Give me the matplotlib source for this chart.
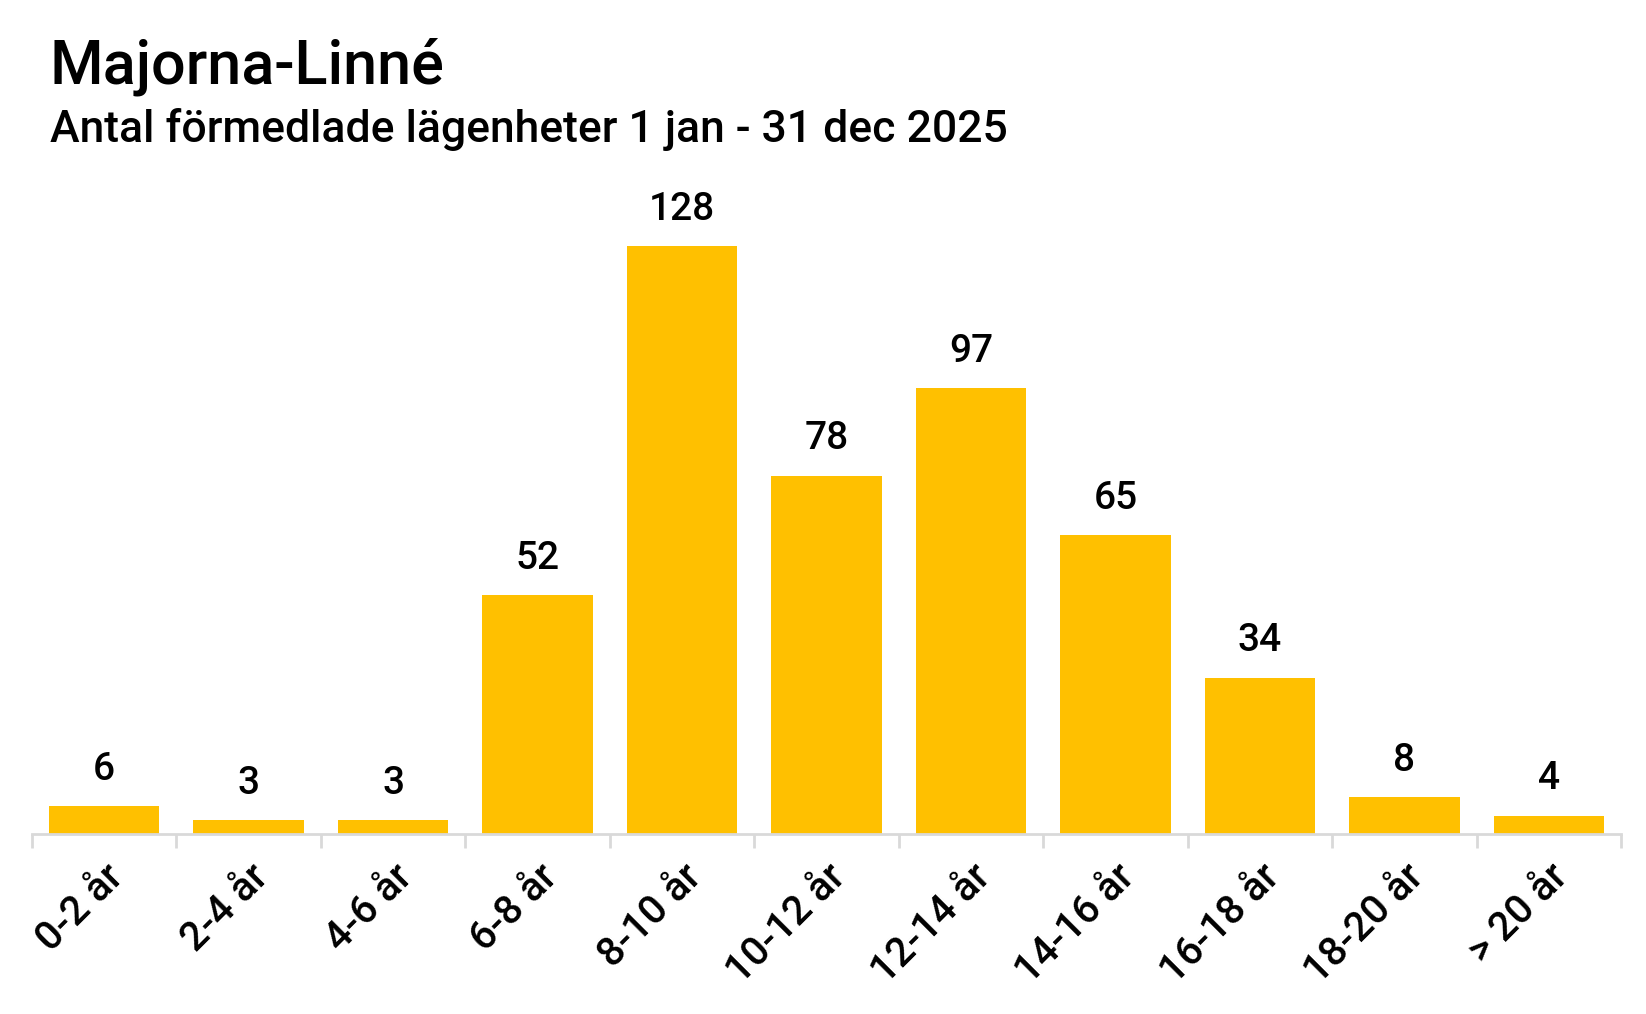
import numpy as np
import matplotlib.pyplot as plt

# data
categories = ['0-2 år', '2-4 år', '4-6 år', '6-8 år', '8-10 år', '10-12 år',
              '12-14 år', '14-16 år', '16-18 år', '18-20 år', '> 20 år']
counts = [6, 3, 3, 52, 128, 78, 97, 65, 34, 8, 4]

title = 'Majorna-Linné'
subtitle = 'Antal förmedlade lägenheter 1 jan - 31 dec 2025'

plt.rcParams['font.family'] = ['Roboto', 'DejaVu Sans']

W, H = 1646, 1014
fig = plt.figure(figsize=(W/100, H/100), dpi=100)
ax = fig.add_axes([32/W, 1-834/H, (1621-32)/W, (834-191)/H])

x = np.arange(len(categories))
ax.bar(x, counts, width=0.765, color='#FFC000')

for xi, v in zip(x, counts):
    ax.annotate(str(v), (xi, v), xytext=(0, 19), textcoords='offset points',
                ha='center', va='baseline', fontsize=28, fontweight='medium')

ax.set_xlim(-0.5, len(categories)-0.5)
ax.set_ylim(0, 140)

for s in ['top', 'right', 'left']:
    ax.spines[s].set_visible(False)
ax.spines['bottom'].set_color('#d9d9d9')
ax.spines['bottom'].set_linewidth(2)
ax.set_yticks([])

ax.set_xticks(x)
ax.set_xticklabels(categories, rotation=45, ha='right', va='top',
                   rotation_mode='anchor', fontsize=29, fontweight='medium')
ax.tick_params(axis='x', which='major', length=0, pad=17)
ax.set_xticks(np.arange(-0.5, len(categories)), minor=True)
ax.tick_params(axis='x', which='minor', length=10, width=2, color='#d9d9d9')

fig.text(50/W, 1-84/H, title, fontsize=44, fontweight='medium', va='baseline')
fig.text(50/W, 1-142/H, subtitle, fontsize=32, fontweight='medium', va='baseline')

fig.savefig('out.png', dpi=100)
